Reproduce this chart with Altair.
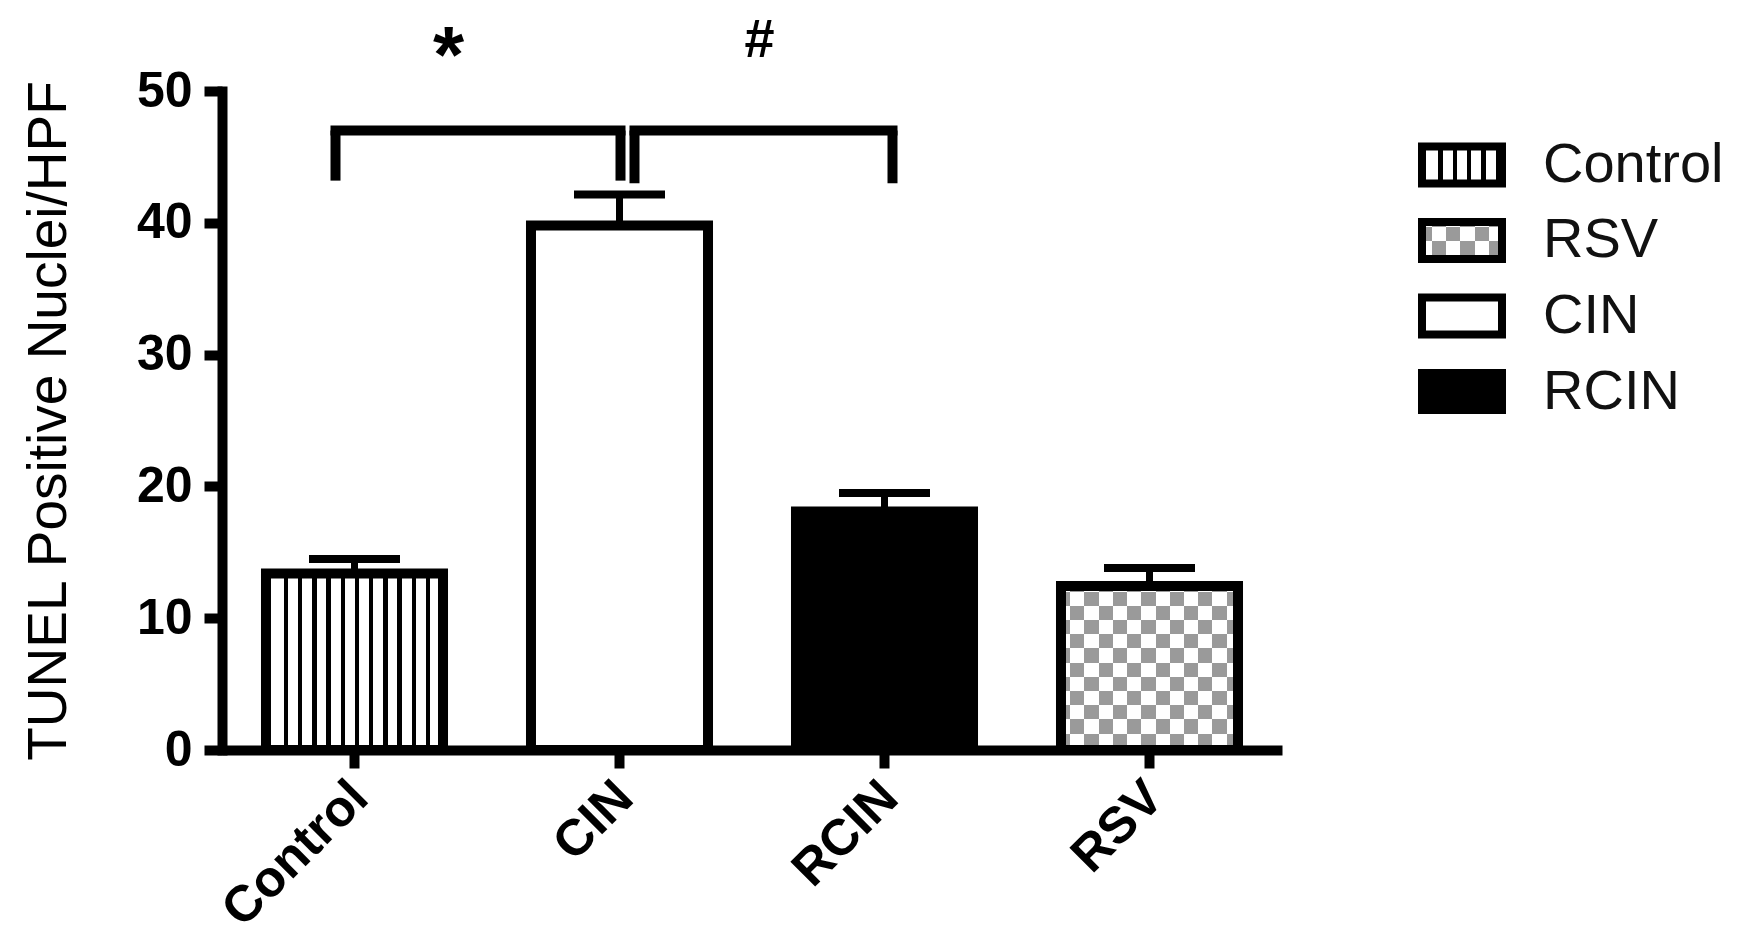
import altair as alt
import pandas as pd

# ---- data ----
categories = ["Control", "CIN", "RCIN", "RSV"]
means = [13.4, 39.8, 18.1, 12.45]
sems = [1.1, 2.35, 1.4, 1.35]
legend_order = ["Control", "RSV", "CIN", "RCIN"]
y_ticks = [0, 10, 20, 30, 40, 50]
y_title = "TUNEL Positive Nuclei/HPF"

# significance brackets: left group, right group, top value, leg-bottom value
bracket_left = ["Control", "CIN"]
bracket_right = ["CIN", "RCIN"]
bracket_top = [47.0, 47.0]
bracket_bottom = [43.2, 43.0]
# significance symbols
sig_text = ["*", "#"]
sig_group = ["Control", "CIN"]
sig_y = [52.5, 53.8]

df = pd.DataFrame({"group": categories, "mean": means, "sem": sems})
df["top"] = df["mean"] + df["sem"]
legend_df = pd.DataFrame({"legend": legend_order})

# ---- styling helpers ----
W, H = 1060, 659
FONT = "Liberation Sans"
GRAY = "#9a9a9a"


def stripe_grad(length, start, period, width, dark, light, vertical=False):
    stops = [(0.0, light)]
    pos = start - width / 2
    while pos < length:
        a = max(pos, 0) / length
        b = min(pos + width, length) / length
        stops += [(a, light), (a, dark), (b, dark), (b, light)]
        pos += period
    stops.append((1.0, light))
    return alt.LinearGradient(
        gradient="linear",
        stops=[alt.GradientStop(offset=o, color=c) for o, c in stops],
        x1=0, y1=0, x2=0 if vertical else 1, y2=1 if vertical else 0,
    )


def alt_grad(length, start, size, c1, c2, vertical=False):
    stops = [(0.0, c2)]
    pos = start
    cur = c2
    while pos < length:
        nxt = c1 if cur == c2 else c2
        o = pos / length
        stops += [(o, cur), (o, nxt)]
        cur = nxt
        pos += size
    stops.append((1.0, cur))
    return alt.LinearGradient(
        gradient="linear",
        stops=[alt.GradientStop(offset=o, color=c) for o, c in stops],
        x1=0, y1=0, x2=0 if vertical else 1, y2=1 if vertical else 0,
    )


xscale = alt.Scale(domain=categories, paddingInner=0.332, paddingOuter=0.166)
yscale = alt.Scale(domain=[0, 50], nice=False, zero=True)

x_axis = alt.Axis(
    title=None, labelAngle=-45, labelFont=FONT, labelFontSize=51,
    labelFontWeight="bold", labelColor="black", labelPadding=4,
    labelOffset=-12, labelLimit=600,
    tickSize=18, tickWidth=10, tickColor="black",
    domainWidth=10, domainColor="black", grid=False,
)
y_axis = alt.Axis(
    title=y_title, values=y_ticks, labelFont=FONT, labelFontSize=50,
    labelFontWeight="bold", labelColor="black", labelPadding=12,
    tickSize=18, tickWidth=10, tickColor="black",
    domainWidth=10, domainColor="black", domainCap="square", grid=False,
    titleFont=FONT, titleFontSize=55, titleFontWeight="normal",
    titleColor="black", titlePadding=59,
)


def Xf(field):
    return alt.X(field, scale=xscale, axis=x_axis)


X = Xf("group:N")


def Yq(field, axis=None):
    if axis is None:
        return alt.Y(field, scale=yscale, axis=None)
    return alt.Y(field, scale=yscale, axis=axis)


bar_w = 177
px_per_unit = H / 50.0
rsv_h = means[3] * px_per_unit

fills = {
    "Control": stripe_grad(bar_w, 20, 14.2, 4.5, "black", "white"),
    "CIN": "white",
    "RCIN": "black",
    "RSV": alt_grad(bar_w, 9.3, 14.2, "black", "white"),
}

layers = []
first = True
for g in categories:
    layers.append(
        alt.Chart(df).transform_filter(alt.datum.group == g)
        .mark_bar(fill=fills[g], strokeWidth=0)
        .encode(x=X, y=Yq("mean:Q", y_axis if first else None))
    )
    first = False

# checkerboard for RSV: XOR of stripes, then mapped to gray/white
layers.append(
    alt.Chart(df).transform_filter(alt.datum.group == "RSV")
    .mark_bar(fill=alt_grad(rsv_h, 5.7, 14.2, "white", "black", vertical=True),
              strokeWidth=0, blend="difference")
    .encode(x=X, y=Yq("mean:Q"))
)
layers.append(
    alt.Chart(df).transform_filter(alt.datum.group == "RSV")
    .mark_bar(fill=GRAY, strokeWidth=0, blend="screen")
    .encode(x=X, y=Yq("mean:Q"))
)
# borders
layers.append(
    alt.Chart(df).mark_bar(fillOpacity=0, stroke="black", strokeWidth=10,
                           strokeJoin="miter")
    .encode(x=X, y=Yq("mean:Q"))
)
# error bars
layers.append(
    alt.Chart(df).mark_rule(color="black", strokeWidth=7, opacity=1)
    .encode(x=X, y=Yq("mean:Q"), y2="top:Q")
)
layers.append(
    alt.Chart(df).mark_tick(color="black", thickness=8, size=91, opacity=1)
    .encode(x=X, y=Yq("top:Q"))
)

# brackets
br_df = pd.DataFrame({"left": bracket_left, "right": bracket_right,
                      "top": bracket_top, "bottom": bracket_bottom})
br_offsets = [(-19, 1), (15, 8)]
for i, (lo, ro) in enumerate(br_offsets):
    d = br_df.iloc[[i]]
    layers.append(
        alt.Chart(d).mark_rule(color="black", strokeWidth=10, strokeCap="square",
                               xOffset=lo, x2Offset=ro)
        .encode(x=Xf("left:N"), x2="right:N", y=Yq("top:Q"))
    )
    layers.append(
        alt.Chart(d).mark_rule(color="black", strokeWidth=10, xOffset=lo)
        .encode(x=Xf("left:N"), y=Yq("top:Q"), y2="bottom:Q")
    )
    layers.append(
        alt.Chart(d).mark_rule(color="black", strokeWidth=10, xOffset=ro)
        .encode(x=Xf("right:N"), y=Yq("top:Q"), y2="bottom:Q")
    )

# significance symbols
sig_df = pd.DataFrame({"t": sig_text, "group": sig_group, "y": sig_y})
sig_style = [(80, 94), (54, 140)]
for i, (fs, dx) in enumerate(sig_style):
    layers.append(
        alt.Chart(sig_df.iloc[[i]]).mark_text(
            font=FONT, fontWeight="bold", fontSize=fs, color="black",
            baseline="middle", align="center", xOffset=dx)
        .encode(x=Xf("group:N"), y=Yq("y:Q"), text="t:N")
    )

# ---- legend (own band scale) ----
leg_scale = alt.Scale(type="band", domain=legend_order, range=[55.5, 319],
                      paddingInner=0.51, paddingOuter=0)
LY = alt.Y("legend:N", scale=leg_scale, axis=None)
LX = dict(x=alt.value(1200), x2=alt.value(1280))
leg_fills = {
    "Control": stripe_grad(80, 18.4, 14.4, 4.5, "black", "white"),
    "RSV": alt_grad(80, 10, 14.2, "black", "white"),
    "CIN": "white",
    "RCIN": "black",
}
for g in legend_order:
    layers.append(
        alt.Chart(legend_df).transform_filter(alt.datum.legend == g)
        .mark_rect(fill=leg_fills[g], strokeWidth=0)
        .encode(y=LY, **LX)
    )
layers.append(
    alt.Chart(legend_df).transform_filter(alt.datum.legend == "RSV")
    .mark_rect(fill=alt_grad(37, 4.5, 14.2, "white", "black", vertical=True),
               strokeWidth=0, blend="difference")
    .encode(y=LY, **LX)
)
layers.append(
    alt.Chart(legend_df).transform_filter(alt.datum.legend == "RSV")
    .mark_rect(fill=GRAY, strokeWidth=0, blend="screen")
    .encode(y=LY, **LX)
)
layers.append(
    alt.Chart(legend_df).mark_rect(fillOpacity=0, stroke="black", strokeWidth=8,
                                   strokeJoin="miter")
    .encode(y=LY, **LX)
)
layers.append(
    alt.Chart(legend_df).mark_text(font=FONT, fontSize=56, color="#111111",
                                   align="left", baseline="middle")
    .encode(y=LY, x=alt.value(1321), text="legend:N")
)

chart = (
    alt.layer(*layers)
    .resolve_scale(y="independent")
    .properties(
        width=W, height=H,
        autosize=alt.AutoSizeParams(type="none"),
        padding={"left": 214, "top": 83, "right": 450, "bottom": 188},
        background="white",
    )
    .configure_view(strokeWidth=0)
)

chart.save("out.html", embed_options={"renderer": "svg", "actions": False})
